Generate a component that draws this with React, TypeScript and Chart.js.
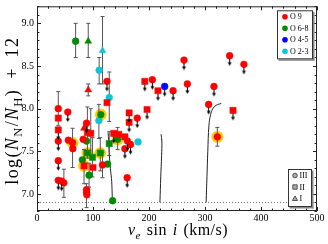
import React, { useEffect, useRef } from 'react';
import { Chart, registerables } from 'chart.js';

Chart.register(...registerables);

// ---------- axes ----------
const xTickValues = [0, 100, 200, 300, 400, 500];
const yTickValues = [7.0, 7.5, 8.0, 8.5, 9.0];
const xRange = [0, 500];
const yRange = [6.8, 9.2];
const xMinorStep = 20;
const yMinorStep = 0.1;
const detectionLimit = 6.9;

// ---------- data: [vsini, log(N/H)+12] ----------
const o9Giants = [
  [38, 8.0], [38, 7.62], [38, 7.39], [38, 7.16], [44, 7.15], [48, 7.13], [55, 7.96],
  [56, 7.63], [63.5, 7.6], [64, 7.53], [82.5, 7.64], [88.5, 7.83], [88.5, 7.05],
  [88.5, 7.02], [89, 6.99], [117, 7.34], [125, 8.32], [157, 7.53], [161.5, 7.62],
  [167, 7.58], [161, 7.19], [179, 7.89], [206, 8.34], [243, 8.21], [262.5, 8.57],
  [268.5, 8.29], [306.5, 8.05], [316, 8.26], [322, 7.67], [344, 8.62], [369.5, 8.52],
];
const o9BrightGiants = [
  [38, 7.89], [38, 7.75], [90, 7.72], [96, 7.71], [84, 7.33], [100, 7.31], [125, 8.07],
  [137, 7.71], [146, 7.7], [157, 7.67], [164.5, 7.95], [164.5, 7.84], [192.5, 8.32],
  [196.5, 7.99], [216, 8.21], [350, 7.98],
];
const o9Supergiants = [[91.5, 8.22], [84, 7.77]];
const o68Giants = [
  [69, 8.79], [81, 7.4], [88.5, 7.62], [93, 7.22], [114, 7.93], [126, 7.35], [135, 6.92], [144, 7.64],
];
const o68BrightGiants = [[90, 7.48], [99, 7.43], [113, 7.48], [129, 7.59]];
const o68Supergiants = [[91.5, 8.79]];
const o45Giants = [[228, 8.26]];
const o23Giants = [[111, 8.45], [129, 8.13], [110.5, 7.86], [180.5, 7.61]];
const o23Supergiants = [[117, 8.68]];

const haloPoints = [[63.5, 7.6], [84, 7.33], [90, 7.48], [113, 7.48], [114, 7.93], [144, 7.64], [322, 7.67]];

const upperLimits = [
  [38, 7.62], [38, 7.39], [38, 7.16], [44, 7.15], [55, 7.96], [38, 7.75], [88.5, 7.83],
  [125, 8.32], [157, 7.53], [161.5, 7.62], [167, 7.58], [161, 7.19], [179, 7.89],
  [164.5, 7.95], [164.5, 7.84], [196.5, 7.99], [192.5, 8.32], [206, 8.34], [216, 8.21],
  [228, 8.26], [243, 8.21], [262.5, 8.57], [268.5, 8.29], [306.5, 8.05], [316, 8.26],
  [344, 8.62], [369.5, 8.52], [350, 7.98], [137, 7.71],
];

// [x, low, high]
const errorBars = [
  [38, 7.8, 8.2], [48, 6.96, 7.29], [63.5, 7.31, 7.77], [69, 8.6, 9.0], [91.5, 8.6, 9.0],
  [91.5, 8.15, 8.29], [117, 8.29, 9.08], [111, 8.29, 8.6], [129, 7.85, 8.43],
  [110.5, 7.65, 8.05], [90, 7.42, 8.02], [96, 7.45, 8.0], [84, 7.12, 7.52],
  [88.5, 6.84, 7.12], [93, 7.08, 7.36], [99, 7.2, 7.66], [113, 7.27, 7.66],
  [117, 7.19, 7.49], [129, 7.45, 7.73], [144, 7.52, 7.78], [322, 7.56, 7.78],
];

// model tracks
const track1 = [[127, 7.72], [128.5, 7.55], [129.5, 7.42], [131, 7.3], [133, 7.18], [134, 7.05], [134.5, 6.9]];
const track2 = [[221.5, 7.7], [223, 7.62], [222.5, 7.45], [221, 7.2], [219.5, 6.9]];
const track3 = [[329, 8.06], [320, 8.04], [314, 8.0], [310, 7.93], [307, 7.8], [305, 7.5], [303.5, 7.2], [302, 6.9]];

const spectralLabels = ['O 9', 'O 6-8', 'O 4-5', 'O 2-3'];
const luminosityLabels = ['III', 'II', 'I'];

const RED = '#ff0000';
const GREEN = '#008a00';
const BLUE = '#0000ff';
const CYAN = '#10c4d6';
const spectralColors = [RED, GREEN, BLUE, CYAN];

const SERIF = '"Liberation Serif", "DejaVu Serif", serif';

const pts = (arr: number[][]) => arr.map(([x, y]) => ({ x, y }));

function makeArrow(): HTMLCanvasElement {
  const c = document.createElement('canvas');
  c.width = 7;
  c.height = 30;
  const g = c.getContext('2d')!;
  const cx = 3.5, cy = 15;
  g.strokeStyle = '#000';
  g.fillStyle = '#000';
  g.lineWidth = 1;
  g.beginPath();
  g.moveTo(cx, cy + 3);
  g.lineTo(cx, cy + 8);
  g.stroke();
  g.beginPath();
  g.moveTo(cx - 2, cy + 6.5);
  g.lineTo(cx + 2, cy + 6.5);
  g.lineTo(cx, cy + 10);
  g.closePath();
  g.fill();
  return c;
}

type Run = { t: string; italic?: boolean; sub?: boolean };

// draws text runs centred on (0,0) baseline; extra room goes mostly to spaces
function drawRuns(ctx: CanvasRenderingContext2D, runs: Run[], size: number, targetWidth: number) {
  const glyphs: { ch: string; font: string; w: number; sub: boolean }[] = [];
  let total = 0;
  runs.forEach((r) => {
    const s = r.sub ? size * 0.7 : size;
    const font = `${r.italic ? 'italic ' : ''}${s}px ${SERIF}`;
    ctx.font = font;
    for (const ch of r.t) {
      const w = ctx.measureText(ch).width;
      glyphs.push({ ch, font, w, sub: !!r.sub });
      total += w;
    }
  });
  const weights = glyphs.map((g) => (g.ch === ' ' ? 4 : 1));
  const wsum = weights.reduce((p, c) => p + c, 0);
  const extra = Math.max(0, targetWidth - total);
  let x = -(total + extra) / 2;
  ctx.textAlign = 'left';
  ctx.textBaseline = 'alphabetic';
  ctx.fillStyle = '#000';
  glyphs.forEach((g, i) => {
    ctx.font = g.font;
    ctx.fillText(g.ch, x, g.sub ? size * 0.25 : 0);
    x += g.w + (extra * weights[i]) / wsum;
  });
}

const decorPlugin = {
  id: 'decor',
  afterDatasetsDraw(chart: any) {
    const { ctx, chartArea: a, scales } = chart;
    const xs = scales.x, ys = scales.y;
    ctx.save();
    // frame
    ctx.strokeStyle = '#222';
    ctx.lineWidth = 1;
    ctx.strokeRect(a.left + 0.5, a.top + 0.5, a.right - a.left - 1, a.bottom - a.top - 1);
    // inner ticks
    ctx.beginPath();
    const nx = Math.round((xRange[1] - xRange[0]) / xMinorStep);
    for (let i = 0; i <= nx; i++) {
      const v = xRange[0] + i * xMinorStep;
      const major = xTickValues.some((t) => Math.abs(t - v) < 1e-6);
      const len = major ? 4 : 2.5;
      const px = Math.round(xs.getPixelForValue(v)) + 0.5;
      ctx.moveTo(px, a.bottom);
      ctx.lineTo(px, a.bottom - len);
      ctx.moveTo(px, a.top);
      ctx.lineTo(px, a.top + len);
    }
    const ny = Math.round((yRange[1] - yRange[0]) / yMinorStep);
    for (let i = 0; i <= ny; i++) {
      const v = yRange[0] + i * yMinorStep;
      const major = yTickValues.some((t) => Math.abs(t - v) < 1e-6);
      const len = major ? 4 : 2.5;
      const py = Math.round(ys.getPixelForValue(v)) + 0.5;
      ctx.moveTo(a.left, py);
      ctx.lineTo(a.left + len, py);
      ctx.moveTo(a.right, py);
      ctx.lineTo(a.right - len, py);
    }
    ctx.stroke();

    // spectral legend (top right)
    const b1 = { x: a.right - 40, y: a.top + 4, w: 36, h: 49 };
    ctx.fillStyle = '#fff';
    ctx.fillRect(b1.x, b1.y, b1.w, b1.h);
    ctx.fillStyle = '#888';
    ctx.fillRect(b1.x + b1.w, b1.y + 1.5, 1.5, b1.h);
    ctx.fillRect(b1.x + 1.5, b1.y + b1.h, b1.w, 1.5);
    ctx.strokeStyle = '#333';
    ctx.strokeRect(b1.x + 0.5, b1.y + 0.5, b1.w - 1, b1.h - 1);
    ctx.font = `8px ${SERIF}`;
    ctx.textBaseline = 'middle';
    ctx.textAlign = 'left';
    spectralLabels.forEach((lab, i) => {
      const yy = b1.y + 6.5 + i * 11.5;
      ctx.fillStyle = spectralColors[i];
      ctx.beginPath();
      ctx.arc(b1.x + 8, yy, 2.8, 0, Math.PI * 2);
      ctx.fill();
      ctx.fillStyle = '#000';
      ctx.fillText(lab, b1.x + 13, yy + 0.5);
    });

    // luminosity legend (bottom right)
    const b2 = { x: a.right - 29, y: a.bottom - 42, w: 24, h: 38 };
    ctx.fillStyle = '#fff';
    ctx.fillRect(b2.x, b2.y, b2.w, b2.h);
    ctx.fillStyle = '#888';
    ctx.fillRect(b2.x + b2.w, b2.y + 1.5, 1.5, b2.h);
    ctx.fillRect(b2.x + 1.5, b2.y + b2.h, b2.w, 1.5);
    ctx.strokeStyle = '#333';
    ctx.strokeRect(b2.x + 0.5, b2.y + 0.5, b2.w - 1, b2.h - 1);
    luminosityLabels.forEach((lab, i) => {
      const yy = b2.y + 6.5 + i * 11.5;
      const sx = b2.x + 7;
      ctx.fillStyle = '#aaa';
      ctx.strokeStyle = '#333';
      ctx.lineWidth = 0.8;
      ctx.beginPath();
      if (i === 0) ctx.arc(sx, yy, 2.3, 0, Math.PI * 2);
      else if (i === 1) ctx.rect(sx - 2.2, yy - 2.2, 4.4, 4.4);
      else {
        ctx.moveTo(sx, yy - 2.6);
        ctx.lineTo(sx + 2.6, yy + 2);
        ctx.lineTo(sx - 2.6, yy + 2);
        ctx.closePath();
      }
      ctx.fill();
      ctx.stroke();
      ctx.fillStyle = '#000';
      ctx.font = `8px ${SERIF}`;
      ctx.textBaseline = 'middle';
      ctx.fillText(lab, sx + 4.5, yy + 0.5);
    });

    // axis titles
    ctx.save();
    ctx.translate((a.left + a.right) / 2 + 1, 235);
    drawRuns(ctx, [
      { t: 'v', italic: true },
      { t: 'e', italic: true, sub: true },
      { t: ' sin ' },
      { t: 'i', italic: true },
      { t: ' (km/s)' },
    ], 16, 100);
    ctx.restore();

    ctx.save();
    ctx.translate(17.5, (a.top + a.bottom) / 2 + 2);
    ctx.rotate(-Math.PI / 2);
    drawRuns(ctx, [
      { t: 'log(' },
      { t: 'N', italic: true },
      { t: 'N', sub: true },
      { t: '/' },
      { t: 'N', italic: true },
      { t: 'H', sub: true },
      { t: ') + 12' },
    ], 18, 148);
    ctx.restore();

    ctx.restore();
  },
};

export default function App() {
  const ref = useRef<HTMLCanvasElement | null>(null);
  useEffect(() => {
    document.body.style.margin = '0';
    const arrow = makeArrow();
    const errorData: any[] = [];
    errorBars.forEach(([x, lo, hi]) => {
      errorData.push({ x, y: lo }, { x, y: hi }, { x, y: null });
    });
    const marker = (arr: number[][], color: string, style: string, r: number) => ({
      data: pts(arr),
      pointStyle: style,
      pointRadius: r,
      backgroundColor: color,
      borderColor: color,
      borderWidth: 0.5,
      order: 2,
    });
    const track = (arr: number[][]) => ({
      data: pts(arr),
      showLine: true,
      borderColor: '#222',
      borderWidth: 1,
      pointRadius: 0,
      tension: 0.4,
      order: 12,
    });
    const chart = new Chart(ref.current!, {
      type: 'scatter',
      data: {
        datasets: [
          {
            data: [{ x: xRange[0], y: detectionLimit }, { x: xRange[1], y: detectionLimit }],
            showLine: true,
            borderColor: '#777',
            borderWidth: 1,
            borderDash: [1, 2],
            pointRadius: 0,
            order: 20,
          },
          {
            data: pts(haloPoints),
            pointRadius: 5.8,
            backgroundColor: '#ffcc00',
            borderColor: '#ffd94d',
            borderWidth: 0.5,
            order: 15,
          },
          track(track1),
          track(track2),
          track(track3),
          {
            data: errorData,
            showLine: true,
            spanGaps: false,
            borderColor: '#555',
            borderWidth: 1,
            pointStyle: 'line',
            pointRadius: 2,
            pointBorderColor: '#555',
            pointBorderWidth: 1,
            order: 10,
          },
          marker(o9Giants, RED, 'circle', 3.4),
          marker(o9BrightGiants, RED, 'rect', 4.4),
          marker(o9Supergiants, RED, 'triangle', 4),
          marker(o68Giants, GREEN, 'circle', 3.4),
          marker(o68BrightGiants, GREEN, 'rect', 4.4),
          marker(o68Supergiants, GREEN, 'triangle', 4),
          marker(o45Giants, BLUE, 'circle', 3.4),
          marker(o23Giants, CYAN, 'circle', 3.4),
          marker(o23Supergiants, CYAN, 'triangle', 4),
          {
            data: pts(upperLimits),
            pointStyle: arrow,
            pointRadius: 4,
            order: 1,
          },
        ] as any,
      },
      options: {
        animation: false,
        responsive: false,
        events: [],
        layout: { padding: { left: 0, right: 11, top: 4, bottom: 0 } },
        plugins: { legend: { display: false }, tooltip: { enabled: false } },
        scales: {
          x: {
            type: 'linear',
            min: xRange[0],
            max: xRange[1],
            grid: { display: false, drawTicks: false },
            border: { display: false },
            ticks: { color: '#000', padding: 1, font: { family: SERIF, size: 10 }, callback: (v: any) => String(v) },
            afterBuildTicks: (s: any) => { s.ticks = xTickValues.map((v) => ({ value: v })); },
            afterFit: (s: any) => { s.height = 33; s.paddingLeft = 0; s.paddingRight = 0; },
          },
          y: {
            type: 'linear',
            min: yRange[0],
            max: yRange[1],
            grid: { display: false, drawTicks: false },
            border: { display: false },
            ticks: { color: '#000', padding: 3, font: { family: SERIF, size: 10 }, callback: (v: any) => Number(v).toFixed(1) },
            afterBuildTicks: (s: any) => { s.ticks = yTickValues.map((v) => ({ value: v })); },
            afterFit: (s: any) => { s.width = 37; s.paddingTop = 0; s.paddingBottom = 0; },
          },
        },
      } as any,
      plugins: [decorPlugin as any],
    });
    return () => chart.destroy();
  }, []);
  return (
    <div style={{ position: 'fixed', left: 0, top: 0, width: 328, height: 244, background: '#fff' }}>
      <canvas ref={ref} width={328} height={244} />
    </div>
  );
}
